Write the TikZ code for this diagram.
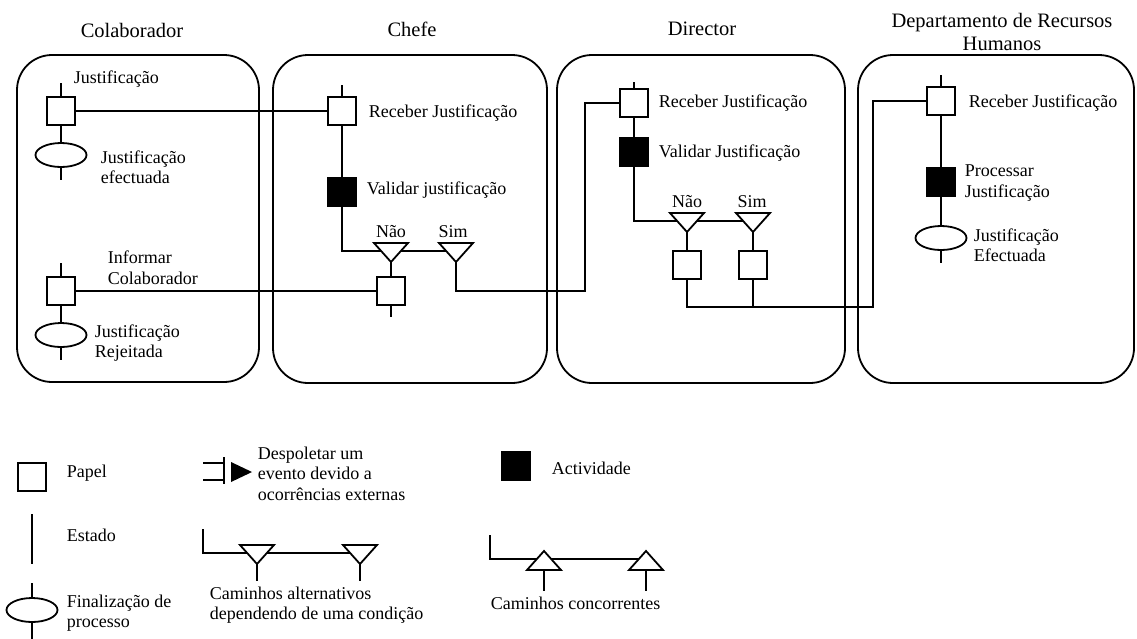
\documentclass[tikz,border=0pt]{standalone}
\usepackage{fontspec}
\setmainfont{Liberation Serif}
\usetikzlibrary{shapes.geometric,backgrounds}
\tikzset{
  lane/.style={draw, rounded corners=35pt},
  title/.style={font=\fontsize{20.5}{23}\selectfont, align=center, inner sep=0pt},
  lbl/.style={font=\fontsize{18}{20.5}\selectfont, align=left, anchor=west, inner sep=0pt},
  cond/.style={font=\fontsize{18}{20.5}\selectfont, inner sep=0pt},
  paper/.style={draw, fill=white, minimum size=28pt, inner sep=0pt},
  activity/.style={draw, fill=black, minimum size=28pt, inner sep=0pt},
  finish/.style={draw, fill=white, ellipse, minimum width=51pt, minimum height=24pt, inner sep=0pt},
  wire/.style={line width=1.8pt},
  % alternative path: triangle pointing down, origin at the middle of its top edge
  downtri/.pic={
    \draw[fill=white, line join=miter] (-17,0) -- (17,0) -- (0,19) -- cycle;
    \coordinate (-c) at (0,8);
    \coordinate (-apex) at (0,19);
  },
  % concurrent path: triangle pointing up, origin at its apex
  uptri/.pic={
    \draw[fill=white, line join=miter] (-17,19) -- (17,19) -- (0,0) -- cycle;
    \coordinate (-c) at (0,8);
    \coordinate (-base) at (0,19);
  }
}
\begin{document}
\begin{tikzpicture}[x=1pt, y=-1pt, line width=1.8pt]
\useasboundingbox (0,0) rectangle (1137,638);

% swimlanes
\draw[lane] (17,55) rectangle (259,382);
\draw[lane] (273,55) rectangle (547,383);
\draw[lane] (557,55) rectangle (845,383);
\draw[lane] (858,55) rectangle (1134,383);

\node[title] (tColab) at (132,30) {Colaborador};
\node[title] (tChefe) at (412,29) {Chefe};
\node[title] (tDir) at (702,29) {Director};
\node[title] (tDRH) at (1002,31.5) {Departamento de Recursos\\Humanos};

% Colaborador
\coordinate (p1top) at (61,83);
\node[paper] (p1) at (61,111) {};
\node[finish] (e1) at (61,155) {};
\coordinate (e1end) at (61,180);
\node[lbl] (l1) at (73,79) {Justificação};
\node[lbl] (l2) at (100,167) {Justificação\\efectuada};

\coordinate (p2top) at (61,263);
\node[paper] (p2) at (61,291) {};
\node[finish] (e2) at (61,335) {};
\coordinate (e2end) at (61,360);
\node[lbl] (l3) at (107,267.5) {Informar\\Colaborador};
\node[lbl] (l4) at (94,343) {Justificação\\Rejeitada};

% Chefe
\coordinate (c1top) at (342,85);
\node[paper] (c1) at (342,111) {};
\node[lbl] (l5) at (368,113) {Receber Justificação};
\node[activity] (ca) at (342,192) {};
\node[lbl] (l6) at (366,190) {Validar justificação};
\coordinate (cturn) at (342,251);
\pic (cNao) at (391,243) {downtri};
\pic (cSim) at (456,243) {downtri};
\node[cond] (l7) at (391,232) {Não};
\node[cond] (l8) at (453,232) {Sim};
\node[paper] (c2) at (391,291) {};
\coordinate (c2end) at (391,317);
\coordinate (cs1) at (456,291);
\coordinate (cs2) at (585,291);
\coordinate (cs3) at (585,103);

% Director
\coordinate (d1top) at (634,82);
\node[paper] (d1) at (634,103) {};
\node[lbl] (l9) at (658,103) {Receber Justificação};
\node[activity] (da) at (634,152) {};
\node[lbl] (l10) at (658,153) {Validar Justificação};
\coordinate (dturn) at (634,221);
\pic (dNao) at (687,213) {downtri};
\pic (dSim) at (753,213) {downtri};
\node[cond] (l11) at (687,202) {Não};
\node[cond] (l12) at (752,202) {Sim};
\node[paper] (d2) at (687,265) {};
\node[paper] (d3) at (753,265) {};
\coordinate (ds1) at (687,307);
\coordinate (ds2) at (753,307);
\coordinate (ds3) at (873,307);
\coordinate (ds4) at (873,101);

% Departamento de Recursos Humanos
\coordinate (r1top) at (941,75);
\node[paper] (r1) at (941,101) {};
\node[lbl] (l13) at (968,103) {Receber Justificação};
\node[activity] (ra) at (941,182) {};
\node[lbl] (l14) at (964,183) {Processar\\Justificação};
\node[finish] (re) at (941,238) {};
\coordinate (reend) at (941,263);
\node[lbl] (l15) at (973,245) {Justificação\\Efectuada};

% legend
\node[paper] (kp) at (32,477) {};
\node[lbl] (k1) at (66,473) {Papel};
\coordinate (ks1) at (32,514);
\coordinate (ks2) at (32,564);
\node[lbl] (k2) at (66,535) {Estado};
\coordinate (kf1) at (32,583);
\node[finish] (kf) at (32,610) {};
\coordinate (kf2) at (32,640);
\node[lbl] (k3) at (66,613) {Finalização de\\processo};

\coordinate (kt1) at (203,463);
\coordinate (kt2) at (224,463);
\coordinate (kt3) at (203,480);
\coordinate (kt4) at (224,480);
\coordinate (kt5) at (224,457);
\coordinate (kt6) at (224,484);
\fill (231,462) -- (252,472) -- (231,482) -- cycle;
\node[lbl] (k4) at (257,473.5) {Despoletar um\\evento devido a\\ocorrências externas};

\coordinate (ka0) at (203,529);
\coordinate (ka1) at (203,553);
\pic (kaA) at (257,545) {downtri};
\pic (kaB) at (360,545) {downtri};
\coordinate (kaAend) at (257,581);
\coordinate (kaBend) at (360,581);
\node[lbl] (k5) at (209,605) {Caminhos alternativos\\dependendo de uma condição};

\node[activity] (kact) at (516,466) {};
\node[lbl] (k6) at (551,468) {Actividade};

\coordinate (kc0) at (490,535);
\coordinate (kc1) at (490,559);
\pic (kcA) at (544,551) {uptri};
\pic (kcB) at (646,551) {uptri};
\coordinate (kcAend) at (544,591);
\coordinate (kcBend) at (646,591);
\node[lbl] (k7) at (490,603) {Caminhos concorrentes};

% connectors, kept behind the symbols
\begin{pgfonlayer}{background}
\begin{scope}[wire]
\draw (p1top) -- (p1.north);
\draw (p1.south) -- (e1.north);
\draw (e1.south) -- (e1end);
\draw (p2top) -- (p2.north);
\draw (p2.south) -- (e2.north);
\draw (e2.south) -- (e2end);
\draw (p1.east) -- (c1.west);
\draw (p2.east) -- (c2.west);

\draw (c1top) -- (c1.north);
\draw (c1.south) -- (ca.north);
\draw (ca.south) -- (cturn) -- (cSim-c);
\draw (cNao-apex) -- (c2.north);
\draw (c2.south) -- (c2end);
\draw (cSim-apex) -- (cs1) -- (cs2) -- (cs3) -- (d1.west);

\draw (d1top) -- (d1.north);
\draw (d1.south) -- (da.north);
\draw (da.south) -- (dturn) -- (dSim-c);
\draw (dNao-apex) -- (d2.north);
\draw (dSim-apex) -- (d3.north);
\draw (d2.south) -- (ds1) -- (ds3) -- (ds4) -- (r1.west);
\draw (d3.south) -- (ds2);

\draw (r1top) -- (r1.north);
\draw (r1.south) -- (ra.north);
\draw (ra.south) -- (re.north);
\draw (re.south) -- (reend);

\draw (ks1) -- (ks2);
\draw (kf1) -- (kf.north);
\draw (kf.south) -- (kf2);
\draw (kt1) -- (kt2);
\draw (kt3) -- (kt4);
\draw (kt5) -- (kt6);
\draw (ka0) -- (ka1) -- (kaB-c);
\draw (kaA-apex) -- (kaAend);
\draw (kaB-apex) -- (kaBend);
\draw (kc0) -- (kc1) -- (kcB-c);
\draw (kcA-base) -- (kcAend);
\draw (kcB-base) -- (kcBend);
\end{scope}
\end{pgfonlayer}
\end{tikzpicture}
\end{document}
